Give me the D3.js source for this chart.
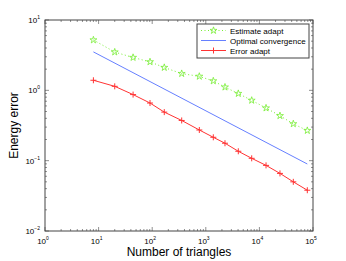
<!DOCTYPE html>
<html>
<head>
<meta charset="utf-8">
<script src="https://cdn.jsdelivr.net/npm/d3@7"></script>
<style>
body { margin: 0; background: #fff; }
text { font-family: "Liberation Sans", Arial, sans-serif; fill: #000; }
</style>
</head>
<body>
<div id="graph"></div>
<script>
// data
var triangles = [8, 20, 44, 91, 168, 355, 757, 1380, 2280, 4040, 7180, 13300, 24200, 42900, 78300];
var estimateAdapt = [5.2, 3.5, 2.93, 2.54, 2.11, 1.73, 1.58, 1.36, 1.11, 0.90, 0.72, 0.56, 0.435, 0.334, 0.268];
var errorAdapt = [1.39, 1.14, 0.87, 0.66, 0.49, 0.373, 0.273, 0.215, 0.177, 0.136, 0.108, 0.0857, 0.0659, 0.050, 0.038];
var optimalX = [8, 78300];
var optimalY = [3.52, 0.0897];
var xTickExp = [0, 1, 2, 3, 4, 5];
var yTickExp = [-2, -1, 0, 1];
var legendNames = ["Estimate adapt", "Optimal convergence", "Error adapt"];

var margin = {top: 20, right: 33, bottom: 30, left: 45},
    width = 346 - margin.left - margin.right,
    height = 261 - margin.top - margin.bottom;

var x = d3.scaleLog().domain([1, 1e5]).range([0, width]);
var y = d3.scaleLog().domain([1e-2, 10]).range([height, 0]);

var svg = d3.select("#graph").append("svg")
    .attr("width", 346)
    .attr("height", 261)
    .append("g")
    .attr("transform", "translate(" + margin.left + "," + margin.top + ")");

var axisColor = "#444";

// ticks, inward, on all four sides
function isMajor(v) { return Math.abs(Math.log10(v) - Math.round(Math.log10(v))) < 1e-9; }
var xt = x.ticks(), yt = y.ticks();
xt.forEach(function(v) {
    var len = isMajor(v) ? 4 : 2, px = x(v);
    svg.append("line").attr("x1", px).attr("x2", px).attr("y1", height).attr("y2", height - len)
        .attr("stroke", axisColor).attr("stroke-width", 0.6);
    svg.append("line").attr("x1", px).attr("x2", px).attr("y1", 0).attr("y2", len)
        .attr("stroke", axisColor).attr("stroke-width", 0.6);
});
yt.forEach(function(v) {
    var len = isMajor(v) ? 4 : 2, py = y(v);
    svg.append("line").attr("x1", 0).attr("x2", len).attr("y1", py).attr("y2", py)
        .attr("stroke", axisColor).attr("stroke-width", 0.6);
    svg.append("line").attr("x1", width).attr("x2", width - len).attr("y1", py).attr("y2", py)
        .attr("stroke", axisColor).attr("stroke-width", 0.6);
});

svg.append("rect")
    .attr("width", width).attr("height", height)
    .attr("fill", "none").attr("stroke", axisColor).attr("stroke-width", 1);

// tick labels
xTickExp.forEach(function(e) {
    var t = svg.append("text")
        .attr("x", x(Math.pow(10, e)) - 2)
        .attr("y", height + 13)
        .attr("text-anchor", "middle")
        .style("font-size", "8px");
    t.append("tspan").text("10");
    t.append("tspan").attr("dy", -4).style("font-size", "5px").text(e);
});
yTickExp.forEach(function(e) {
    var t = svg.append("text")
        .attr("x", -5)
        .attr("y", y(Math.pow(10, e)) + 3)
        .attr("text-anchor", "end")
        .style("font-size", "8px");
    t.append("tspan").text("10");
    t.append("tspan").attr("dy", -4).style("font-size", "5px").text(e < 0 ? "\u2212" + (-e) : e);
});

// axis labels
svg.append("text")
    .attr("x", width / 2)
    .attr("y", height + 25)
    .attr("text-anchor", "middle")
    .style("font-size", "12px")
    .text("Number of triangles");
svg.append("text")
    .attr("transform", "translate(-27," + (height / 2) + ") rotate(-90)")
    .attr("text-anchor", "middle")
    .style("font-size", "12px")
    .text("Energy error");

var green = "#77ee33", blue = "#6680ff", red = "#ff3333";
var line = d3.line()
    .x(function(d) { return x(d[0]); })
    .y(function(d) { return y(d[1]); });

var star = d3.symbol().type(d3.symbolStar).size(15);
var plus = "M-3,0H3M0,-3V3";

// estimate adapt: dotted with stars
var est = d3.zip(triangles, estimateAdapt);
svg.append("path").datum(est).attr("d", line)
    .attr("fill", "none").attr("stroke", green).attr("stroke-width", 1)
    .attr("stroke-dasharray", "1,2.5");
svg.selectAll(".star").data(est).enter().append("path")
    .attr("class", "star")
    .attr("transform", function(d) { return "translate(" + x(d[0]) + "," + y(d[1]) + ")"; })
    .attr("d", star)
    .attr("fill", "none").attr("stroke", green).attr("stroke-width", 0.8);

// optimal convergence
svg.append("path").datum(d3.zip(optimalX, optimalY)).attr("d", line)
    .attr("fill", "none").attr("stroke", blue).attr("stroke-width", 1);

// error adapt
var err = d3.zip(triangles, errorAdapt);
svg.append("path").datum(err).attr("d", line)
    .attr("fill", "none").attr("stroke", red).attr("stroke-width", 1);
svg.selectAll(".plus").data(err).enter().append("path")
    .attr("class", "plus")
    .attr("transform", function(d) { return "translate(" + x(d[0]) + "," + y(d[1]) + ")"; })
    .attr("d", plus)
    .attr("fill", "none").attr("stroke", red).attr("stroke-width", 1);

// legend
var lg = svg.append("g").attr("transform", "translate(" + (197 - margin.left) + "," + (24 - margin.top) + ")");
lg.append("rect").attr("width", 112).attr("height", 34)
    .attr("fill", "#fff").attr("stroke", axisColor).attr("stroke-width", 1);
var colors = [green, blue, red];
legendNames.forEach(function(name, i) {
    var ly = 6.5 + i * 10;
    var l = lg.append("line").attr("x1", 4).attr("x2", 29).attr("y1", ly).attr("y2", ly)
        .attr("stroke", colors[i]).attr("stroke-width", 1);
    if (i == 0) l.attr("stroke-dasharray", "1,2.5");
    if (i == 0) lg.append("path").attr("transform", "translate(16.5," + ly + ")").attr("d", star)
        .attr("fill", "none").attr("stroke", green).attr("stroke-width", 0.8);
    if (i == 2) lg.append("path").attr("transform", "translate(16.5," + ly + ")").attr("d", plus)
        .attr("fill", "none").attr("stroke", red);
    lg.append("text").attr("x", 33).attr("y", ly + 3)
        .style("font-size", "8px").text(name);
});
</script>
</body>
</html>
